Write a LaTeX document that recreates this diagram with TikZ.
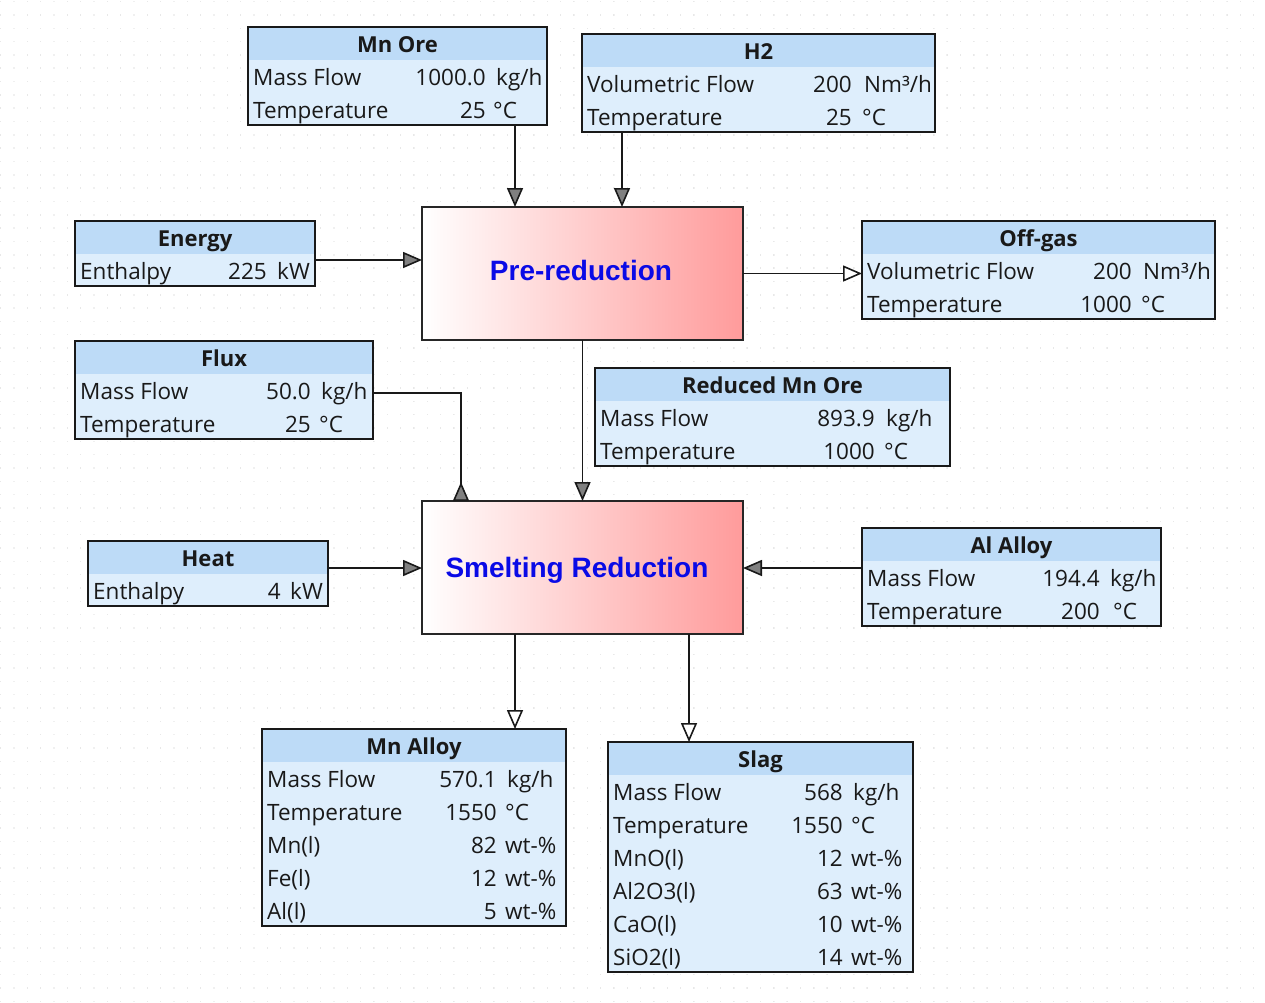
\documentclass[tikz,border=0pt]{standalone}
\usepackage{fontspec}
\setmainfont{Open Sans}
\newfontfamily\procfont{Liberation Sans}
\usetikzlibrary{arrows.meta,patterns}

\definecolor{headblue}{RGB}{189,219,247}
\definecolor{bodyblue}{RGB}{222,238,252}
\definecolor{procred}{RGB}{255,155,155}
\definecolor{procblue}{RGB}{10,10,230}
\definecolor{tipgray}{RGB}{128,128,128}
\definecolor{dotgray}{RGB}{232,232,232}
\definecolor{txt}{RGB}{25,25,25}

\pgfdeclarepatternformonly{faintdots}{\pgfqpoint{0pt}{0pt}}{\pgfqpoint{1.4pt}{1.4pt}}{\pgfqpoint{13.33pt}{13.33pt}}{%
  \pgfpathrectangle{\pgfqpoint{0pt}{0pt}}{\pgfqpoint{1.4pt}{1.4pt}}\pgfusepath{fill}}

\tikzset{
  sbody/.style={fill=bodyblue, draw=none, inner sep=0pt, outer sep=0pt},
  shead/.style={fill=headblue, draw=none, inner sep=0pt, outer sep=0pt, minimum height=33},
  sborder/.style={draw=black!90, line width=1.2pt},
  stitle/.style={anchor=base, inner sep=0pt, text=txt, font=\bfseries\fontsize{22}{22}\selectfont},
  slabel/.style={anchor=base west, inner sep=0pt, font=\fontsize{22.5}{22.5}\selectfont, text=txt},
  sval/.style={anchor=base east, inner sep=0pt, font=\fontsize{22.5}{22.5}\selectfont, text=txt},
  sunit/.style={anchor=base west, inner sep=0pt, font=\fontsize{22.5}{22.5}\selectfont, text=txt},
  proc/.style={draw=black!85, line width=1.6pt, shading=axis, left color=white, right color=procred,
    inner sep=0pt, outer sep=0pt, anchor=north west},
  proctext/.style={inner sep=0pt, font=\procfont\bfseries\fontsize{28}{28}\selectfont, text=procblue},
  conn/.style={draw=black!90, line width=1.6pt},
  fulltip/.style={-{Triangle[width=16pt,length=19pt,fill=tipgray]}},
  opentip/.style={-{Triangle[width=16pt,length=19pt,fill=white]}},
  revtip/.style={-{Triangle[reversed,width=16pt,length=19pt,fill=tipgray]}},
}

% #1 name, #2 x, #3 y, #4 width, #5 rows, #6 title
\newcommand{\streambox}[6]{%
  \node[sbody, minimum width=#4, minimum height={33*(#5+1)-1}, anchor=north west] (#1) at (#2,#3) {};
  \node[shead, minimum width=#4, anchor=north west] (#1-h) at (#2,#3) {};
  \node[stitle] (#1-t) at ({#2+#4/2},{#3+25}) {#6};
  \draw[sborder] (#1.north west) rectangle (#1.south east);
}
% #1 name, #2 idx, #3 x, #4 y0, #5 value right x, #6 unit left x, #7 label, #8 value, #9 unit
\newcommand{\srow}[9]{%
  \node[slabel] (#1-l#2) at ({#3+5},{#4+25+33*#2}) {#7};
  \node[sval] (#1-v#2) at (#5,{#4+25+33*#2}) {#8};
  \node[sunit] (#1-u#2) at (#6,{#4+25+33*#2}) {#9};
}

\begin{document}
\begin{tikzpicture}[x=1pt,y=-1pt]
\useasboundingbox (0,0) rectangle (1265,1002);
\fill[white] (0,0) rectangle (1265,1002);
\fill[pattern=faintdots, pattern color=dotgray] (0,0) rectangle (1265,1002);

% process boxes
\node[proc, minimum width=321, minimum height=133] (pre) at (422,207) {};
\node[proctext] (pre-t) at (581,270) {Pre-reduction};
\node[proc, minimum width=321, minimum height=133] (smelt) at (422,501) {};
\node[proctext] (smelt-t) at (577,570) {Smelting Reduction};

% stream boxes
\streambox{mnore}{248}{27}{299}{2}{Mn Ore}
\srow{mnore}{1}{248}{27}{486}{496}{Mass Flow}{1000.0}{kg/h}
\srow{mnore}{2}{248}{27}{486}{493}{Temperature}{25}{°C}

\streambox{htwo}{582}{34}{353}{2}{H2}
\srow{htwo}{1}{582}{34}{852}{864}{Volumetric Flow}{200}{Nm³/h}
\srow{htwo}{2}{582}{34}{852}{862}{Temperature}{25}{°C}

\streambox{energy}{75}{221}{240}{1}{Energy}
\srow{energy}{1}{75}{221}{267}{277}{Enthalpy}{225}{kW}

\streambox{offgas}{862}{221}{353}{2}{Off-gas}
\srow{offgas}{1}{862}{221}{1132}{1143}{Volumetric Flow}{200}{Nm³/h}
\srow{offgas}{2}{862}{221}{1132}{1141}{Temperature}{1000}{°C}

\streambox{flux}{75}{341}{298}{2}{Flux}
\srow{flux}{1}{75}{341}{311}{321}{Mass Flow}{50.0}{kg/h}
\srow{flux}{2}{75}{341}{311}{319}{Temperature}{25}{°C}

\streambox{redore}{595}{368}{355}{2}{Reduced Mn Ore}
\srow{redore}{1}{595}{368}{875}{886}{Mass Flow}{893.9}{kg/h}
\srow{redore}{2}{595}{368}{875}{884}{Temperature}{1000}{°C}

\streambox{heat}{88}{541}{240}{1}{Heat}
\srow{heat}{1}{88}{541}{281}{290}{Enthalpy}{4}{kW}

\streambox{alalloy}{862}{528}{299}{2}{Al Alloy}
\srow{alalloy}{1}{862}{528}{1100}{1110}{Mass Flow}{194.4}{kg/h}
\srow{alalloy}{2}{862}{528}{1100}{1113}{Temperature}{200}{°C}

\streambox{mnalloy}{262}{729}{304}{5}{Mn Alloy}
\srow{mnalloy}{1}{262}{729}{497}{507}{Mass Flow}{570.1}{kg/h}
\srow{mnalloy}{2}{262}{729}{497}{505}{Temperature}{1550}{°C}
\srow{mnalloy}{3}{262}{729}{497}{505}{Mn(l)}{82}{wt-\%}
\srow{mnalloy}{4}{262}{729}{497}{505}{Fe(l)}{12}{wt-\%}
\srow{mnalloy}{5}{262}{729}{497}{505}{Al(l)}{5}{wt-\%}

\streambox{slag}{608}{742}{305}{6}{Slag}
\srow{slag}{1}{608}{742}{843}{853}{Mass Flow}{568}{kg/h}
\srow{slag}{2}{608}{742}{843}{851}{Temperature}{1550}{°C}
\srow{slag}{3}{608}{742}{843}{851}{MnO(l)}{12}{wt-\%}
\srow{slag}{4}{608}{742}{843}{851}{Al2O3(l)}{63}{wt-\%}
\srow{slag}{5}{608}{742}{843}{851}{CaO(l)}{10}{wt-\%}
\srow{slag}{6}{608}{742}{843}{851}{SiO2(l)}{14}{wt-\%}

% connectors
\draw[conn, fulltip] ([xshift=267pt]mnore.south west) -- ([xshift=93pt]pre.north west);
\draw[conn, fulltip] ([xshift=40pt]htwo.south west) -- ([xshift=200pt]pre.north west);
\draw[conn, fulltip] ([yshift=-39pt]energy.north east) coordinate (e1) -- (e1 -| pre.west);
\draw[conn, opentip] (pre.east) -- (pre.east -| offgas.west);
\draw[conn, fulltip] (pre.south) -- (smelt.north);
\draw[conn, revtip] ([yshift=-52pt]flux.north east) -| ([xshift=39pt]smelt.north west);
\draw[conn, fulltip] ([yshift=-27pt]heat.north east) coordinate (h1) -- (h1 -| smelt.west);
\draw[conn, fulltip] ([yshift=-40pt]alalloy.north west) coordinate (a1) -- (a1 -| smelt.east);
\draw[conn, opentip] ([xshift=93pt]smelt.south west) coordinate (m1) -- (m1 |- mnalloy.north);
\draw[conn, opentip] ([xshift=267pt]smelt.south west) coordinate (s1) -- (s1 |- slag.north);
\end{tikzpicture}
\end{document}
